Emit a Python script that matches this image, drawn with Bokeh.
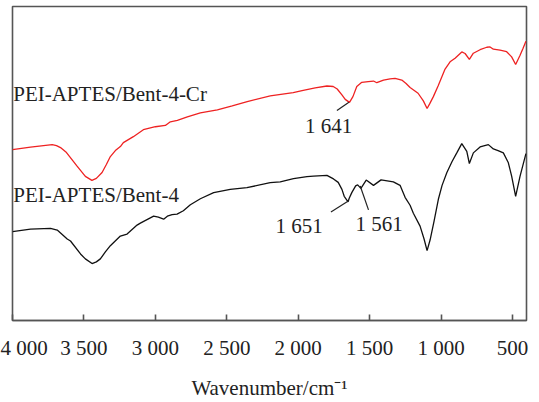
from bokeh.plotting import figure
from bokeh.models import Range1d, FixedTicker, ColumnDataSource
from bokeh.core.properties import value
from bokeh.embed import file_html
from bokeh.resources import INLINE

# ---- data (wavenumber in cm^-1, transmittance in arbitrary units) ----
red_wn = [4000, 3874, 3722, 3692, 3664, 3622, 3548, 3490, 3444, 3413, 3373, 3343, 3315, 3280,
          3245, 3224, 3154, 3084, 3000, 2930, 2895, 2846, 2776, 2685, 2566, 2462, 2357, 2196,
          2035, 1965, 1881, 1799, 1755, 1727, 1694, 1671, 1641, 1617, 1590, 1555, 1510, 1473,
          1450, 1403, 1357, 1322, 1275, 1245, 1217, 1161, 1124, 1098, 1080, 1054, 1021, 972,
          937, 902, 855, 832, 802, 774, 727, 680, 657, 634, 587, 541, 506, 478, 447, 426, 406]
red_t = [172, 174.5, 177, 176, 174, 169, 155.3, 145, 141, 143, 149, 157, 165, 171,
         175, 179, 185, 192, 195, 196.3, 200, 201.5, 205, 209, 212, 216, 220.3, 226,
         229.3, 231.5, 234, 236, 235.5, 233, 227, 222.5, 219.5, 225.3, 235.5, 239.7, 240.5, 241,
         239.3, 242, 243.2, 243.7, 242, 238.5, 234.5, 228.7, 221, 213.3, 218, 225.3, 236, 253,
         260.3, 264, 270.3, 268.7, 262.7, 269, 272.5, 275, 275.3, 273, 272, 270.5, 265.3, 257.7, 267, 274, 281]

blk_wn = [4000, 3874, 3734, 3687, 3617, 3594, 3524, 3490, 3443, 3413, 3385, 3350, 3315, 3245,
          3198, 3128, 3105, 3012, 2979, 2942, 2916, 2883, 2848, 2804, 2755, 2685, 2592, 2476,
          2359, 2196, 2126, 2033, 1939, 1893, 1799, 1753, 1720, 1694, 1678, 1651, 1643, 1625,
          1598, 1584, 1561, 1524, 1473, 1420, 1334, 1287, 1252, 1217, 1194, 1147, 1119, 1098,
          1077, 1049, 1019, 993, 960, 923, 890, 855, 820, 802, 774, 727, 669, 634, 601, 564,
          529, 506, 478, 447, 406]
blk_t = [89.5, 92, 92.8, 91, 82, 80, 67, 62, 57.3, 59, 62, 69, 75.3, 85,
         87, 96, 98, 105, 104, 102, 105, 106.5, 107, 110.5, 116.5, 122.5, 128.7, 132,
         133.7, 138.7, 139.5, 142.7, 144.7, 145.3, 146, 142.5, 139, 132, 125, 119.5, 123, 128.7,
         135.5, 136.5, 133, 141.3, 136, 141.5, 139.5, 136, 124, 116, 108, 95, 82, 70.3,
         81, 100, 122, 136, 148.7, 160, 168.7, 178, 170.3, 158, 168.7, 174.7, 177, 172.7, 171, 168.7,
         158.7, 145.3, 125, 145.3, 168]

tick_values = [4000, 3500, 3000, 2500, 2000, 1500, 1000, 500]
tick_labels = ["4 000", "3 500", "3 000", "2 500", "2 000", "1 500", "1 000", "500"]

series_names = ["PEI-APTES/Bent-4-Cr", "PEI-APTES/Bent-4"]
series_name_pos = [(3995, 227.5), (3995, 126)]

peak_labels = ["1 641", "1 651", "1 561"]
peak_label_pos = [(1788, 195.3), (1994, 95.3), (1434, 97)]
leader_x0 = [1729, 1771, 1508]
leader_y0 = [211.3, 109.3, 111.3]
leader_x1 = [1645, 1655, 1566]
leader_y1 = [219.7, 119.7, 135.3]

FONT = "Liberation Serif"
FRAME = "#555555"
TXT = "#222222"

p = figure(width=539, height=402, output_backend="svg", toolbar_location=None,
           x_range=Range1d(4000, 402), y_range=Range1d(0, 316),
           min_border_left=12, min_border_right=13, min_border_top=6, min_border_bottom=0)
p.background_fill_color = "white"
p.border_fill_color = "white"
p.grid.visible = False
p.yaxis.visible = False
p.outline_line_color = FRAME
p.outline_line_width = 1.6

xa = p.xaxis[0]
xa.ticker = FixedTicker(ticks=tick_values)
xa.major_label_overrides = {v: s for v, s in zip(tick_values, tick_labels)}
xa.minor_tick_line_color = None
xa.major_tick_in = 6
xa.major_tick_out = 0
xa.major_tick_line_color = FRAME
xa.major_tick_line_width = 1.6
xa.axis_line_color = FRAME
xa.axis_line_width = 1.6
xa.major_label_text_font = FONT
xa.major_label_text_font_size = "21px"
xa.major_label_text_color = TXT
xa.major_label_standoff = 15
xa.axis_label = "Wavenumber/cm\u207b\u00b9"
xa.axis_label_text_font = FONT
xa.axis_label_text_font_size = "21px"
xa.axis_label_text_font_style = "normal"
xa.axis_label_text_color = TXT
xa.axis_label_standoff = 13

p.line(red_wn, red_t, line_color="#ee2222", line_width=1.3)
p.line(blk_wn, blk_t, line_color="#111111", line_width=1.3)

p.segment(x0=leader_x0, y0=leader_y0, x1=leader_x1, y1=leader_y1,
          line_color=TXT, line_width=1.2)

src_names = ColumnDataSource(dict(x=[q[0] for q in series_name_pos],
                                  y=[q[1] for q in series_name_pos], t=series_names))
p.text(x="x", y="y", text="t", source=src_names, text_font=value(FONT),
       text_font_size="21px", text_color=TXT, text_align="left", text_baseline="middle")

src_peaks = ColumnDataSource(dict(x=[q[0] for q in peak_label_pos],
                                  y=[q[1] for q in peak_label_pos], t=peak_labels))
p.text(x="x", y="y", text="t", source=src_peaks, text_font=value(FONT),
       text_font_size="21px", text_color=TXT, text_align="center", text_baseline="middle")

open("out.html", "w").write(file_html(p, INLINE))
